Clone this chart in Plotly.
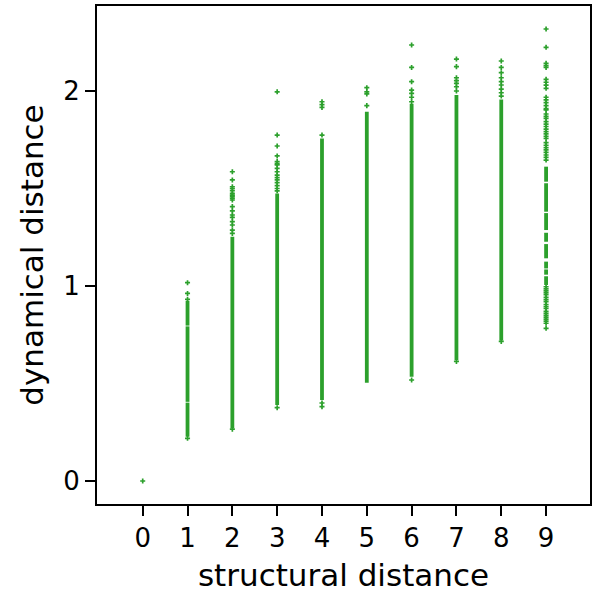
import plotly.graph_objects as go

# structural distance categories
structural = [0, 1, 2, 3, 4, 5, 6, 7, 8, 9]

# dense (visually continuous) ranges of dynamical distance per structural distance: (x, low, high)
seg_x = [1, 1, 1,
         2,
         3,
         4,
         5,
         6,
         7,
         8,
         9, 9, 9, 9, 9, 9, 9, 9]
seg_lo = [0.227, 0.406, 0.797,
          0.270,
          0.390,
          0.415,
          0.504,
          0.535,
          0.620,
          0.720,
          1.535, 1.381, 1.287, 1.227, 1.142, 1.090, 1.058, 1.005]
seg_hi = [0.402, 0.793, 0.925,
          1.253,
          1.475,
          1.757,
          1.894,
          1.935,
          1.979,
          1.957,
          1.612, 1.527, 1.374, 1.273, 1.215, 1.125, 1.085, 1.050]

# individually visible points per structural distance
pts_0 = [0.0]
pts_1 = [1.017, 0.962, 0.932, 0.219]
pts_2 = [1.586, 1.544, 1.509, 1.500, 1.489, 1.475, 1.466, 1.458, 1.450, 1.441,
         1.407, 1.385, 1.364, 1.352, 1.330, 1.313, 1.287, 1.270, 0.266]
pts_3 = [1.996, 1.774, 1.718, 1.667, 1.638, 1.628, 1.621, 1.603, 1.586, 1.569,
         1.556, 1.544, 1.530, 1.515, 1.500, 1.488, 0.376]
pts_4 = [1.945, 1.930, 1.916, 1.774, 0.400, 0.381]
pts_5 = [2.017, 1.996, 1.985, 1.925]
pts_6 = [2.236, 2.121, 2.048, 2.005, 1.988, 1.968, 1.945, 0.518]
pts_7 = [2.164, 2.125, 2.068, 2.053, 2.039, 2.022, 2.000, 0.613]
pts_8 = [2.154, 2.121, 2.094, 2.068, 2.048, 2.031, 2.010, 1.991, 1.974, 0.716]
pts_9 = [2.318, 2.224, 2.142, 2.130, 2.121, 2.060, 2.045, 2.030, 2.014,
         1.968, 1.955, 1.940, 1.925, 1.910, 1.903, 1.882, 1.870, 1.860,
         1.843, 1.830, 1.818, 1.805, 1.792, 1.780, 1.768, 1.757,
         1.735, 1.722, 1.710, 1.698, 1.685, 1.672, 1.660, 1.646,
         0.996, 0.985, 0.975, 0.965, 0.955, 0.942, 0.930, 0.920, 0.905,
         0.895, 0.885, 0.870, 0.860, 0.850, 0.840, 0.830, 0.820, 0.809, 0.783]
points = [pts_0, pts_1, pts_2, pts_3, pts_4, pts_5, pts_6, pts_7, pts_8, pts_9]

x_ticks = [0, 1, 2, 3, 4, 5, 6, 7, 8, 9]
y_ticks = [0, 1, 2]

GREEN = "#2ca02c"
FONT = "DejaVu Sans"

line_x, line_y = [], []
for x, lo, hi in zip(seg_x, seg_lo, seg_hi):
    line_x += [x, x, None]
    line_y += [lo, hi, None]

px, py = [], []
for x, ys in zip(structural, points):
    px += [x] * len(ys)
    py += ys

fig = go.Figure()
fig.add_trace(go.Scatter(x=line_x, y=line_y, mode="lines",
                         line=dict(color=GREEN, width=3.8), hoverinfo="skip",
                         showlegend=False))
fig.add_trace(go.Scatter(x=px, y=py, mode="markers",
                         marker=dict(symbol="cross", size=4.2, color=GREEN,
                                     line=dict(width=0)),
                         showlegend=False))

axis_common = dict(showgrid=False, zeroline=False, showline=True, linecolor="black",
                   linewidth=2, mirror=True, ticks="outside", ticklen=10,
                   tickwidth=2, tickcolor="black",
                   tickfont=dict(family=FONT, size=26, color="black"))

fig.update_layout(
    width=592, height=598,
    margin=dict(l=97, r=0, t=6, b=94),
    plot_bgcolor="white", paper_bgcolor="white",
    xaxis=dict(range=[-1.02, 9.98], tickvals=x_ticks,
               title=dict(text="structural distance",
                          font=dict(family=FONT, size=31, color="black"),
                          standoff=12),
               **axis_common),
    yaxis=dict(range=[-0.118, 2.436], tickvals=y_ticks,
               title=dict(text="dynamical distance",
                          font=dict(family=FONT, size=31, color="black"),
                          standoff=10),
               **axis_common),
)

fig.write_html("out.html", config={"displayModeBar": False},
               post_script="document.body.style.margin='0';document.body.style.overflow='hidden';")
